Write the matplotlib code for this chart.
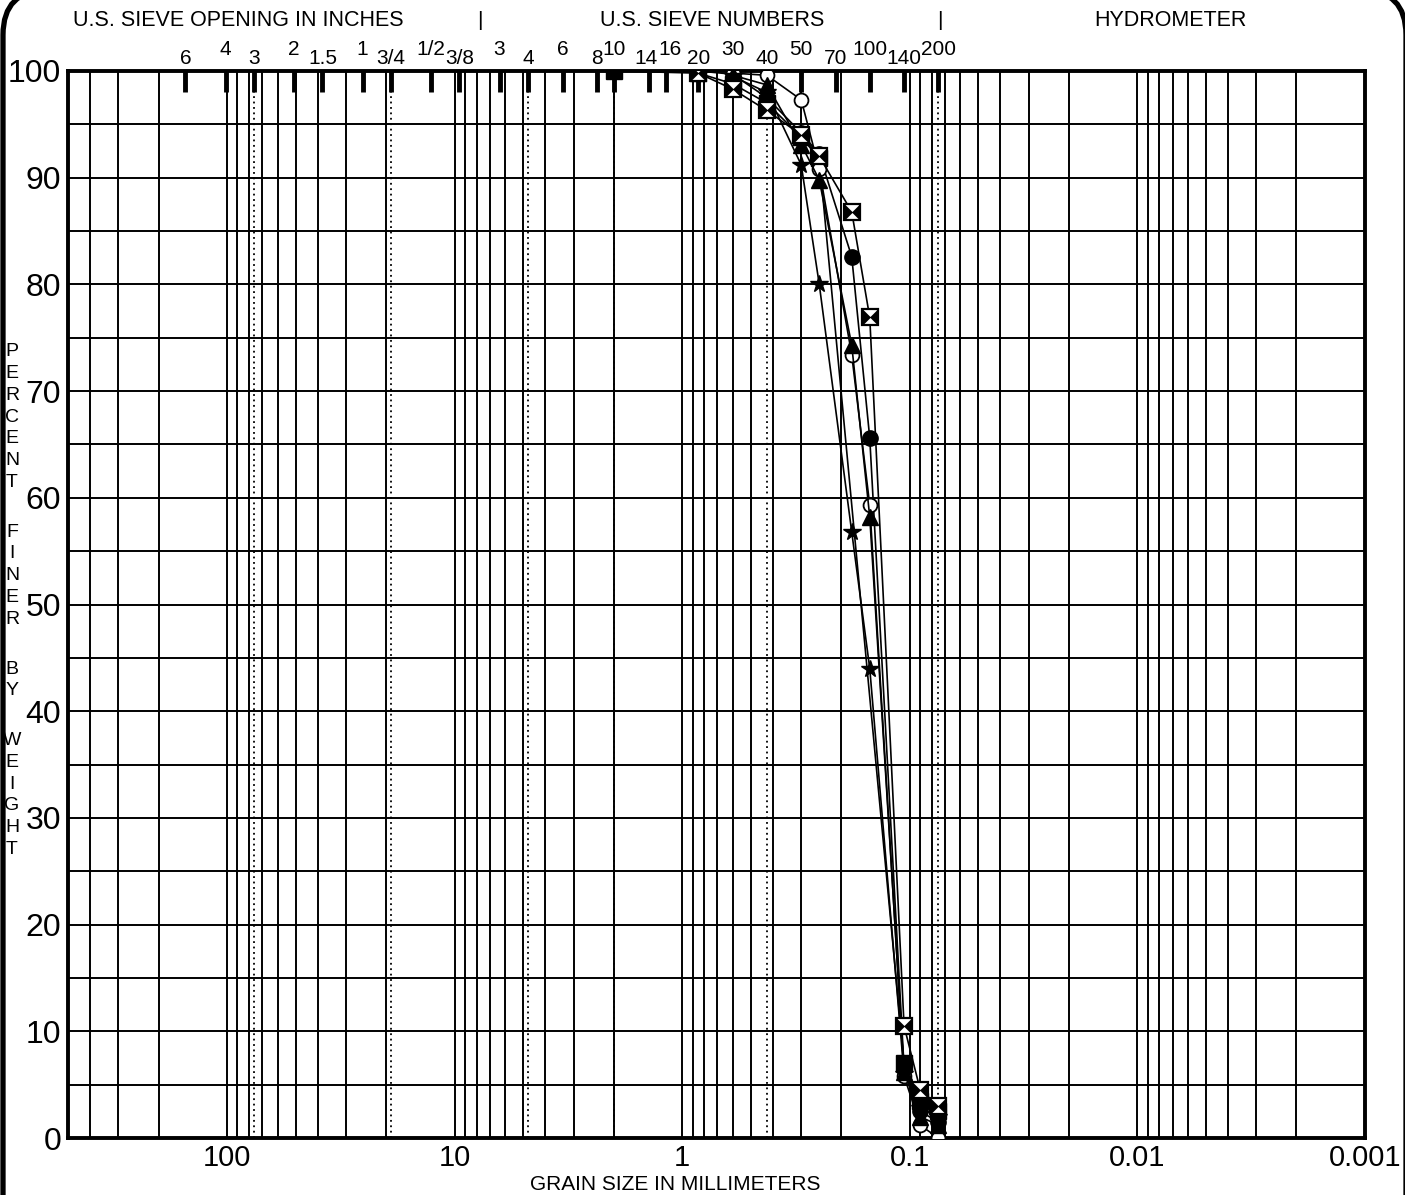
import matplotlib
matplotlib.use('Agg')
import matplotlib.pyplot as plt
from matplotlib.path import Path
from matplotlib.patches import FancyBboxPatch
from matplotlib.transforms import blended_transform_factory, ScaledTranslation

plt.rcParams['font.family'] = ['Liberation Sans', 'DejaVu Sans']

# sieve scale along the top
sieve_in_labels = ['6', '4', '3', '2', '1.5', '1', '3/4', '1/2', '3/8']
sieve_in_mm = [152.4, 101.6, 76.2, 50.8, 38.1, 25.4, 19.05, 12.7, 9.525]
sieve_no_labels = ['3', '4', '6', '8', '10', '14', '16', '20', '30', '40', '50', '70', '100', '140', '200']
sieve_no_mm = [6.35, 4.75, 3.35, 2.36, 2.0, 1.4, 1.18, 0.85, 0.6, 0.425, 0.3, 0.212, 0.15, 0.106, 0.075]

# dotted boundary lines (mm)
bounds_mm = [76.2, 19.05, 4.75, 2.0, 0.425, 0.075]

# gradation curves (grain size mm, percent finer)
sq_x = [2.0, 0.85, 0.6, 0.425, 0.3, 0.25, 0.106, 0.09, 0.075]
sq_y = [100, 99.8, 98.8, 97.0, 93.8, 91.8, 7.0, 3.5, 2.5]

bow_x = [0.85, 0.6, 0.425, 0.3, 0.25, 0.18, 0.15, 0.106, 0.09, 0.075]
bow_y = [99.8, 98.3, 96.3, 94.0, 92.0, 86.8, 76.9, 10.5, 4.5, 3.0]

dot_x = [0.85, 0.6, 0.425, 0.3, 0.25, 0.18, 0.15, 0.106, 0.09, 0.075]
dot_y = [100, 99.7, 97.5, 94.2, 92.2, 82.6, 65.6, 6.6, 2.5, 1.5]

ring_x = [0.6, 0.425, 0.3, 0.25, 0.18, 0.15, 0.106, 0.09, 0.075]
ring_y = [99.8, 99.6, 97.3, 90.8, 73.4, 59.3, 5.8, 1.2, 0.0]

tri_x = [0.6, 0.425, 0.3, 0.25, 0.18, 0.15, 0.106, 0.09, 0.075]
tri_y = [99.6, 98.7, 93.1, 89.8, 74.3, 58.2, 6.2, 2.0, 1.2]

star_x = [0.6, 0.425, 0.3, 0.25, 0.18, 0.15, 0.106, 0.09, 0.075]
star_y = [99.5, 98.0, 91.2, 80.0, 56.8, 44.0, 6.0, 2.8, 2.0]

W, H = 1405, 1195


def fx(px):
    return px / W


def fy(py):
    return 1 - py / H


fig = plt.figure(figsize=(W / 100, H / 100), dpi=100)
ax = fig.add_axes([fx(68), fy(1138), (1365 - 68) / W, (1138 - 71) / H])
ax.set_xscale('log')
ax.set_xlim(500, 0.001)
ax.set_ylim(0, 100)

# log grid
for d in range(-3, 3):
    for m in range(1, 10):
        v = m * 10.0 ** d
        if 0.001 < v < 500:
            ax.axvline(v, color='k', lw=1.4, zorder=1)
for p in range(5, 100, 5):
    ax.axhline(p, color='k', lw=1.4, zorder=1)
for b in bounds_mm:
    ax.axvline(b, color='k', lw=1.3, ls=(0, (1, 2)), zorder=1)

for s in ax.spines.values():
    s.set_linewidth(2.8)

# sieve ticks at top
trans = blended_transform_factory(ax.transData, ax.transAxes)
all_mm = sieve_in_mm + sieve_no_mm
all_lab = sieve_in_labels + sieve_no_labels
ax.vlines(all_mm, 0.98, 1.0, transform=trans, color='k', lw=3.5, zorder=3)
nudge = {'14': -0.03, '16': 0.04}
for i, (v, lab) in enumerate(zip(all_mm, all_lab)):
    yy = 1.0066 if i % 2 == 0 else 1.015
    dx = nudge.get(lab, 0) if i >= len(sieve_in_mm) else 0
    t = trans + ScaledTranslation(dx, 0, fig.dpi_scale_trans)
    ax.text(v, yy, lab, transform=t, ha='center', va='baseline', fontsize=15)

# curves
line_kw = dict(color='k', lw=1.2, zorder=4)
ax.plot(sq_x, sq_y, marker='s', ms=12, mfc='k', mec='k', **line_kw)
ax.plot(dot_x, dot_y, marker='o', ms=11, mfc='k', mec='k', **line_kw)
ax.plot(ring_x, ring_y, marker='o', ms=10, mfc='white', mec='k', mew=1.3, **line_kw)
ax.plot(tri_x, tri_y, marker='^', ms=11, mfc='k', mec='k', **line_kw)
ax.plot(star_x, star_y, marker='*', ms=13, mfc='k', mec='k', **line_kw)
bowtie = Path([(-1, -1), (0, 0), (-1, 1), (-1, -1), (1, -1), (0, 0), (1, 1), (1, -1)],
              [Path.MOVETO, Path.LINETO, Path.LINETO, Path.CLOSEPOLY,
               Path.MOVETO, Path.LINETO, Path.LINETO, Path.CLOSEPOLY])
ax.plot(bow_x, bow_y, marker='s', ms=12, mfc='white', mec='k', mew=1.6, **line_kw)
ax.plot(bow_x, bow_y, ls='none', marker=bowtie, ms=11, mfc='k', mec='k', mew=0.5, zorder=5)

# axis ticks
ax.set_xticks([100, 10, 1, 0.1, 0.01, 0.001])
ax.set_xticklabels(['100', '10', '1', '0.1', '0.01', '0.001'])
ax.xaxis.set_minor_locator(matplotlib.ticker.NullLocator())
ax.set_yticks(range(0, 101, 10))
ax.tick_params(axis='y', length=0, labelsize=23, pad=5)
ax.tick_params(axis='x', length=0, labelsize=21, pad=4)

# headings
fig.text(fx(238), fy(20), 'U.S. SIEVE OPENING IN INCHES', ha='center', va='center', fontsize=15.5)
fig.text(fx(712), fy(20), 'U.S. SIEVE NUMBERS', ha='center', va='center', fontsize=15.5)
fig.text(fx(1170), fy(20), 'HYDROMETER', ha='center', va='center', fontsize=15.5)
fig.text(fx(480), fy(20), '|', ha='center', va='center', fontsize=15)
fig.text(fx(940), fy(20), '|', ha='center', va='center', fontsize=15)
fig.text(fx(675), fy(1184), 'GRAIN SIZE IN MILLIMETERS', ha='center', va='center', fontsize=15)

# stacked y label
py = 352
for word in ['PERCENT', 'FINER', 'BY', 'WEIGHT']:
    for ch in word:
        fig.text(fx(12), fy(py), ch, ha='center', va='center', fontsize=14)
        py += 21.7
    py += 50 - 21.7

# rounded sheet border, drawn in a pixel-space overlay
over = fig.add_axes([0, 0, 1, 1], zorder=10)
over.set_xlim(0, W)
over.set_ylim(H, 0)
over.axis('off')
over.patch.set_visible(False)
frame = FancyBboxPatch((3, -10), W - 2, H + 200,
                       boxstyle='round,pad=0,rounding_size=45',
                       fill=False, lw=3.8, ec='k', clip_on=False)
over.add_patch(frame)

fig.savefig('out.png', dpi=100)
